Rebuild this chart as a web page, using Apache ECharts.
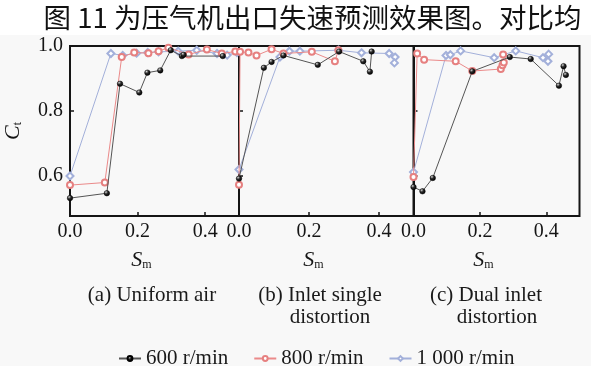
<!DOCTYPE html>
<html>
<head>
<meta charset="utf-8">
<script src="https://cdn.jsdelivr.net/npm/echarts@6/dist/echarts.min.js"></script>
<style>
  html, body { margin: 0; padding: 0; background: #f8f8f8; }
  #chart { width: 591px; height: 366px; }
</style>
</head>
<body>
<div id="chart"></div>
<script>
// Stall-prediction coefficient C_t against S_m, three inlet conditions, three speeds
const speedNames = ['600 r/min', '800 r/min', '1 000 r/min'];
const panelCaptions = [['(a) Uniform air'], ['(b) Inlet single', 'distortion'], ['(c) Dual inlet', 'distortion']];
const xTicks = [0, 0.2, 0.4];
const yTicks = [0.6, 0.8, 1.0];

// (a) uniform air
const uniform600 = [[0, 0.532], [0.109, 0.547], [0.148, 0.884], [0.205, 0.857], [0.229, 0.918], [0.267, 0.925],
  [0.298, 0.987], [0.331, 0.969], [0.336, 0.973], [0.452, 0.969]];
const uniform800 = [[0, 0.572], [0.103, 0.580], [0.153, 0.966], [0.190, 0.980], [0.232, 0.978], [0.262, 0.984],
  [0.291, 0.995], [0.351, 0.974], [0.405, 0.989], [0.449, 0.977], [0.489, 0.983]];
const uniform1000 = [[0, 0.600], [0.121, 0.977], [0.156, 0.971], [0.197, 0.978], [0.230, 0.980], [0.262, 0.982],
  [0.320, 0.984], [0.375, 0.987], [0.435, 0.977], [0.465, 0.972], [0.494, 0.980]];

// (b) single inlet distortion
const single600 = [[0, 0.592], [0.071, 0.933], [0.093, 0.951], [0.127, 0.971], [0.225, 0.942], [0.286, 0.983],
  [0.355, 0.953], [0.374, 0.921], [0.379, 0.983]];
const single800 = [[0, 0.573], [0.003, 0.982], [0.027, 0.980], [0.050, 0.971], [0.093, 0.990], [0.127, 0.977],
  [0.208, 0.982], [0.274, 0.953], [0.284, 0.987]];
const single1000 = [[0, 0.620], [0.117, 0.966], [0.144, 0.984], [0.174, 0.984], [0.284, 0.987], [0.350, 0.979],
  [0.429, 0.977], [0.446, 0.966], [0.444, 0.948]];

// (c) dual inlet distortion
const dual600 = [[0, 0.566], [0.027, 0.553], [0.058, 0.594], [0.177, 0.922], [0.290, 0.966], [0.353, 0.960],
  [0.438, 0.878], [0.452, 0.938], [0.459, 0.911]];
const dual800 = [[0, 0.597], [0.011, 0.977], [0.032, 0.958], [0.127, 0.953], [0.177, 0.923], [0.263, 0.929],
  [0.268, 0.941], [0.272, 0.949], [0.270, 0.974]];
const dual1000 = [[0, 0.612], [0.098, 0.971], [0.111, 0.973], [0.142, 0.985], [0.243, 0.964], [0.308, 0.985],
  [0.390, 0.964], [0.407, 0.975], [0.405, 0.953]];

const panels = [
  [uniform600, uniform800, uniform1000],
  [single600, single800, single1000],
  [dual600, dual800, dual1000]
];

const serif = 'Liberation Serif';
const ink = '#151515';

const grids = [
  { left: 70, top: 46, width: 169, height: 170 },
  { left: 239, top: 46, width: 175, height: 170 },
  { left: 413.5, top: 46, width: 166, height: 170 }
].map(g => Object.assign(g, { show: true, borderColor: ink, borderWidth: 2, backgroundColor: 'transparent' }));

const axisNameRich = {
  big: { fontFamily: serif, fontStyle: 'italic', fontSize: 22, color: ink },
  sub: { fontFamily: serif, fontSize: 12, color: ink, padding: [10, 0, 0, 0] }
};

const xAxes = grids.map((g, i) => ({
  type: 'value', gridIndex: i, min: 0, max: 0.5,
  axisLine: { show: false },
  splitLine: { show: false },
  axisTick: { inside: true, length: 4, customValues: xTicks, lineStyle: { color: ink, width: 1.5 } },
  axisLabel: { customValues: xTicks, margin: 6, fontFamily: serif, fontSize: 20, color: ink,
    formatter: v => v.toFixed(1) },
  name: '{big|S}{sub|m}', nameLocation: 'middle', nameGap: 33,
  nameTextStyle: { rich: axisNameRich, padding: [0, 26, 0, 0] }
}));

const yAxes = grids.map((g, i) => ({
  type: 'value', gridIndex: i, min: 0.477, max: 1.0,
  axisLine: { show: false },
  splitLine: { show: false },
  axisTick: { inside: true, length: 4, customValues: yTicks, lineStyle: { color: ink, width: 1.5 } },
  axisLabel: { show: i === 0, customValues: yTicks, margin: 7, fontFamily: serif, fontSize: 20, color: ink,
    formatter: v => v.toFixed(1) },
  name: i === 0 ? '{big|C}{sub|t}' : '', nameLocation: 'middle', nameGap: 46, nameRotate: 90,
  nameTextStyle: { rich: axisNameRich }
}));

const sphere = new echarts.graphic.RadialGradient(0.35, 0.3, 0.7, [
  { offset: 0, color: '#d8d8d8' }, { offset: 0.45, color: '#2a2a2a' }, { offset: 1, color: '#000' }
]);

const looks = [
  { symbol: 'circle', symbolSize: 5.5, line: '#555555', item: { color: sphere, borderColor: '#000', borderWidth: 0.5 }, z: 4 },
  { symbol: 'emptyCircle', symbolSize: 6, line: '#eb8a8a', item: { color: '#e68080', borderWidth: 1 }, z: 3 },
  { symbol: 'emptyDiamond', symbolSize: 7, line: '#a3b0da', item: { color: '#a3b0da', borderWidth: 1 }, z: 2 }
];

const series = [];
panels.forEach((sets, p) => {
  sets.forEach((data, k) => {
    const lk = looks[k];
    series.push({
      type: 'line', name: speedNames[k], xAxisIndex: p, yAxisIndex: p,
      data: data, symbol: lk.symbol, symbolSize: lk.symbolSize, clip: false,
      lineStyle: { color: lk.line, width: 1 },
      itemStyle: lk.item, z: lk.z, animation: false
    });
  });
});

const captionCenters = [[152], [320, 330], [486, 497]];
const graphics = [
  { type: 'rect', shape: { x: 0, y: 0, width: 591, height: 35 }, style: { fill: '#ffffff' }, z: -10, silent: true },
  { type: 'text', x: 312.5, y: 18,
    style: { text: '图 11 为压气机出口失速预测效果图。对比均', font: '27.5px "Noto Sans CJK SC"', fill: '#111',
      textAlign: 'center', textVerticalAlign: 'middle' } }
];
panelCaptions.forEach((lines, i) => {
  lines.forEach((t, j) => {
    graphics.push({ type: 'text', x: captionCenters[i][j], y: 295 + j * 22,
      style: { text: t, font: '21px "Liberation Serif"', fill: '#1a1a1a', textAlign: 'center', textVerticalAlign: 'middle' } });
  });
});

const chart = echarts.init(document.getElementById('chart'), null, { renderer: 'canvas' });
chart.setOption({
  backgroundColor: '#f8f8f8',
  animation: false,
  grid: grids,
  xAxis: xAxes,
  yAxis: yAxes,
  series: series,
  graphic: graphics,
  legend: {
    data: speedNames, left: 113, top: 343, itemGap: 25, itemWidth: 22, itemHeight: 6,
    textStyle: { fontFamily: serif, fontSize: 21, color: '#1a1a1a' }
  }
});
</script>
</body>
</html>
